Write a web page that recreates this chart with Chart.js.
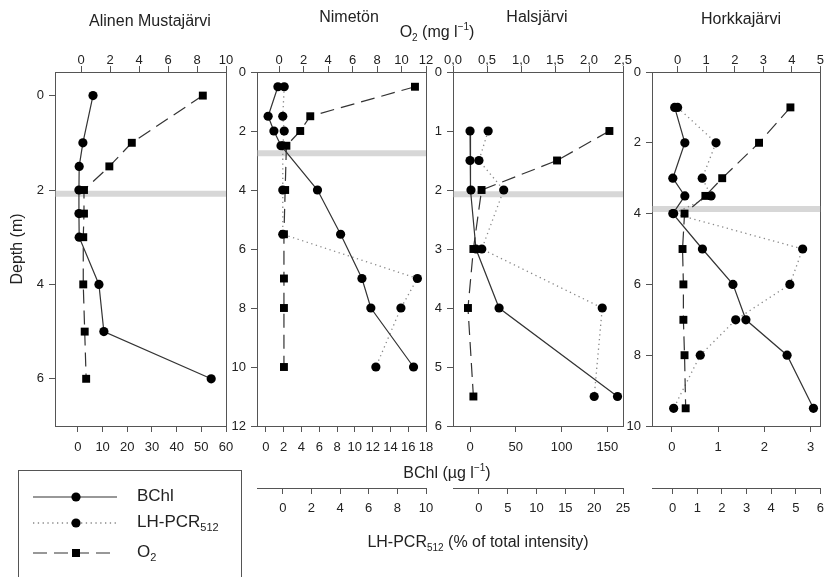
<!DOCTYPE html>
<html>
<head>
<meta charset="utf-8">
<script src="https://cdn.jsdelivr.net/npm/chart.js@4.4.1/dist/chart.umd.min.js"></script>
<style>
  body { margin: 0; width: 831px; height: 577px; position: relative; overflow: hidden; background: #fff;
         font-family: "Liberation Sans", Arial, Helvetica, sans-serif; color: #222; }
  canvas { position: absolute; left: 0; top: 0; }
  .t { position: absolute; white-space: nowrap; font-size: 16px; transform: translate(-50%, -50%); }
  .t sub, .t sup { font-size: 10px; }
  #legend { position: absolute; left: 18px; top: 470px; width: 222px; height: 130px; border: 1px solid #555; }
  #legend .row { position: absolute; left: 0; height: 20px; }
  #legend svg { position: absolute; left: 14px; top: 0; }
  #legend span { position: absolute; left: 118px; top: -1px; font-size: 17px; white-space: nowrap; }
  #legend sub { font-size: 11px; }
</style>
</head>
<body>
<canvas id="c1" width="831" height="577"></canvas>
<canvas id="c2" width="831" height="577"></canvas>
<canvas id="c3" width="831" height="577"></canvas>
<canvas id="c4" width="831" height="577"></canvas>

<div class="t" style="left:150px;top:21px">Alinen Mustajärvi</div>
<div class="t" style="left:349px;top:17px">Nimetön</div>
<div class="t" style="left:537px;top:17px">Halsjärvi</div>
<div class="t" style="left:741px;top:19px">Horkkajärvi</div>
<div class="t" style="left:437px;top:32px">O<sub>2</sub> (mg l<sup>−1</sup>)</div>
<div class="t" style="left:447px;top:472px">BChl (µg l<sup>−1</sup>)</div>
<div class="t" style="left:478px;top:543px">LH-PCR<sub>512</sub> (% of total intensity)</div>

<div id="legend">
  <div class="row" style="top:16px">
    <svg width="86" height="20"><line x1="0" y1="10" x2="84" y2="10" stroke="#333" stroke-width="1.2"/><circle cx="43" cy="10" r="4.6" fill="#000"/></svg>
    <span>BChl</span>
  </div>
  <div class="row" style="top:42px">
    <svg width="86" height="20"><line x1="0" y1="10" x2="84" y2="10" stroke="#888" stroke-width="1.3" stroke-dasharray="1.3 3.5"/><circle cx="43" cy="10" r="4.6" fill="#000"/></svg>
    <span>LH-PCR<sub>512</sub></span>
  </div>
  <div class="row" style="top:72px">
    <svg width="86" height="20"><line x1="0" y1="10" x2="84" y2="10" stroke="#333" stroke-width="1.2" stroke-dasharray="14 7"/><rect x="39" y="6" width="8" height="8" fill="#000"/></svg>
    <span>O<sub>2</sub></span>
  </div>
</div>

<script>
// Alinen Mustajärvi
const AM_DEPTH = [0, 1, 1.5, 2, 2.5, 3, 4, 5, 6];
const AM_BCHL = [6.1, 2, 0.5, 0.4, 0.4, 0.5, 8.5, 10.5, 54];
const AM_O2 = [8.4, 3.5, 1.95, 0.2, 0.2, 0.15, 0.15, 0.25, 0.35];

// Nimetön
const NI_DEPTH = [0.5, 1.5, 2, 2.5, 4, 5.5, 7, 8, 10];
const NI_BCHL = [1.35, 0.25, 0.9, 1.7, 5.8, 8.4, 10.8, 11.8, 16.6];
const NI_LH = [0.1, 0, 0.1, 0, 0, 0, 9.4, 8.25, 6.5];
const NI_O2 = [11.1, 2.55, 1.73, 0.6, 0.5, 0.4, 0.4, 0.4, 0.4];

// Halsjärvi
const HA_DEPTH = [1, 1.5, 2, 3, 4, 5.5];
const HA_BCHL = [0, 0, 1, 6.5, 31.7, 161];
const HA_LH = [1.6, 0, 4.3, 0.5, 21.4, 20];
const HA_O2 = [2.3, 1.53, 0.42, 0.3, 0.22, 0.3];

// Horkkajärvi
const HO_DEPTH = [1, 2, 3, 3.5, 4, 5, 6, 7, 8, 9.5];
const HO_BCHL = [0.06, 0.28, 0.02, 0.28, 0.02, 0.66, 1.32, 1.6, 2.49, 3.06];
const HO_LH = [0.2, 1.76, 1.2, 1.56, 0.04, 5.28, 4.76, 2.56, 1.12, 0.04];
const HO_O2 = [3.95, 2.85, 1.56, 0.97, 0.24, 0.17, 0.2, 0.2, 0.24, 0.28];

// oxycline depth per lake (grey bar)
const OXYCLINE = [2.08, 2.75, 2.07, 3.87];

// tick values
const AM_DEPTH_TICKS = [0, 2, 4, 6];
const NI_DEPTH_TICKS = [0, 2, 4, 6, 8, 10, 12];
const HA_DEPTH_TICKS = [0, 1, 2, 3, 4, 5, 6];
const HO_DEPTH_TICKS = [0, 2, 4, 6, 8, 10];

const AM_O2_TICKS = [0, 2, 4, 6, 8, 10];
const NI_O2_TICKS = [0, 2, 4, 6, 8, 10, 12];
const HA_O2_TICKS = [0, 0.5, 1, 1.5, 2, 2.5];
const HA_O2_LABELS = ["0,0", "0,5", "1,0", "1,5", "2,0", "2,5"];
const HO_O2_TICKS = [0, 1, 2, 3, 4, 5];

const AM_BCHL_TICKS = [0, 10, 20, 30, 40, 50, 60];
const NI_BCHL_TICKS = [0, 2, 4, 6, 8, 10, 12, 14, 16, 18];
const HA_BCHL_TICKS = [0, 50, 100, 150];
const HO_BCHL_TICKS = [0, 1, 2, 3];

const NI_LH_TICKS = [0, 2, 4, 6, 8, 10];
const HA_LH_TICKS = [0, 5, 10, 15, 20, 25];
const HO_LH_TICKS = [0, 1, 2, 3, 4, 5, 6];

const FONT = "'Liberation Sans', Arial, Helvetica, sans-serif";
const AXIS_COLOR = "#555";
const TEXT_COLOR = "#222";
const W = 831, H = 577;
const BOX_TOP = 72, BOX_BOTTOM = 426;
const TOP_AXIS_H = 30, BCHL_AXIS_H = 62, LH_AXIS_H = 34;

function axis(position, range, values, labels, size, opts = {}) {
  const horizontal = position === "top" || position === "bottom";
  return {
    type: "linear",
    axis: horizontal ? "x" : "y",
    position,
    min: range[0],
    max: range[1],
    reverse: !!opts.reverse,
    weight: opts.weight || 0,
    afterBuildTicks: scale => { scale.ticks = values.map(v => ({ value: v })); },
    afterFit: scale => { if (horizontal) scale.height = size; else scale.width = size; },
    ticks: {
      autoSkip: false, maxRotation: 0, minRotation: 0,
      color: TEXT_COLOR, font: { family: FONT, size: 13 },
      padding: opts.padding != null ? opts.padding : 4,
      callback: (v, i) => labels ? labels[i] : v
    },
    grid: { drawOnChartArea: false, tickLength: 6, color: AXIS_COLOR, lineWidth: 1 },
    border: { color: AXIS_COLOR, width: 1 },
    title: opts.title || { display: false }
  };
}

function series(axisId, xs, depths, kind) {
  const base = {
    xAxisID: axisId, yAxisID: "y", showLine: true, clip: false, tension: 0,
    data: xs.map((x, i) => ({ x, y: depths[i] })),
    pointBackgroundColor: "#000", pointBorderColor: "#000", pointBorderWidth: 0,
    pointRadius: 4.6, pointStyle: "circle", borderColor: "#333", borderWidth: 1.2
  };
  if (kind === "lh") Object.assign(base, { borderColor: "#888", borderWidth: 1.3, borderDash: [1.3, 3.5] });
  if (kind === "o2") Object.assign(base, { borderDash: [14, 7], pointStyle: "rect", pointRadius: 5.6 });
  return base;
}

const frame = {
  id: "frame",
  beforeDatasetsDraw(chart) {
    const { left, right, top, bottom } = chart.chartArea;
    const ctx = chart.ctx;
    ctx.save();
    ctx.strokeStyle = AXIS_COLOR;
    ctx.lineWidth = 1;
    ctx.strokeRect(Math.round(left) + 0.5, Math.round(top) + 0.5, Math.round(right - left), Math.round(bottom - top));
    ctx.restore();
  }
};

function panel(cfg) {
  const scales = {
    y: axis("left", cfg.depthRange, cfg.depthTicks, null, cfg.yWidth,
            { reverse: true, padding: 5, title: cfg.yTitle }),
    o2: axis("top", cfg.o2Range, cfg.o2Ticks, cfg.o2Labels, TOP_AXIS_H, { padding: -2 }),
    x: axis("bottom", cfg.bchlRange, cfg.bchlTicks, null, BCHL_AXIS_H, { padding: 8 })
  };
  let bottomH = BCHL_AXIS_H;
  const datasets = [
    {
      xAxisID: "x", yAxisID: "y", showLine: true, order: 10,
      data: [{ x: cfg.bchlRange[0], y: cfg.oxycline }, { x: cfg.bchlRange[1], y: cfg.oxycline }],
      borderColor: "rgba(175,175,175,0.5)", borderWidth: 6, borderCapStyle: "round", pointRadius: 0
    },
    series("x", cfg.bchl, cfg.depth, "bchl"),
    series("o2", cfg.o2, cfg.depth, "o2")
  ];
  if (cfg.lh) {
    scales.lh = axis("bottom", cfg.lhRange, cfg.lhTicks, null, LH_AXIS_H, { weight: 1, padding: 7 });
    bottomH += LH_AXIS_H;
    datasets.push(series("lh", cfg.lh, cfg.depth, "lh"));
  }
  return new Chart(document.getElementById(cfg.id), {
    type: "scatter",
    data: { datasets },
    options: {
      responsive: false,
      animation: false,
      events: [],
      layout: {
        padding: {
          left: cfg.box[0] - cfg.yWidth,
          right: W - cfg.box[1],
          top: BOX_TOP - TOP_AXIS_H,
          bottom: H - BOX_BOTTOM - bottomH
        }
      },
      plugins: { legend: { display: false }, tooltip: { enabled: false } },
      scales
    },
    plugins: [frame]
  });
}

panel({
  id: "c1", box: [55, 226], yWidth: 47,
  yTitle: { display: true, text: "Depth (m)", color: TEXT_COLOR, font: { family: FONT, size: 16 }, padding: 0 },
  depth: AM_DEPTH, bchl: AM_BCHL, o2: AM_O2, oxycline: OXYCLINE[0],
  depthRange: [-0.5, 7], depthTicks: AM_DEPTH_TICKS,
  o2Range: [-1.8, 10], o2Ticks: AM_O2_TICKS,
  bchlRange: [-9.3, 60], bchlTicks: AM_BCHL_TICKS
});

panel({
  id: "c2", box: [257, 426], yWidth: 26,
  depth: NI_DEPTH, bchl: NI_BCHL, o2: NI_O2, lh: NI_LH, oxycline: OXYCLINE[1],
  depthRange: [0, 12], depthTicks: NI_DEPTH_TICKS,
  o2Range: [-1.8, 12], o2Ticks: NI_O2_TICKS,
  bchlRange: [-1, 18], bchlTicks: NI_BCHL_TICKS,
  lhRange: [-1.8, 10], lhTicks: NI_LH_TICKS
});

panel({
  id: "c3", box: [453, 623], yWidth: 26,
  depth: HA_DEPTH, bchl: HA_BCHL, o2: HA_O2, lh: HA_LH, oxycline: OXYCLINE[2],
  depthRange: [0, 6], depthTicks: HA_DEPTH_TICKS,
  o2Range: [0, 2.5], o2Ticks: HA_O2_TICKS, o2Labels: HA_O2_LABELS,
  bchlRange: [-18.6, 167], bchlTicks: HA_BCHL_TICKS,
  lhRange: [-4.5, 25], lhTicks: HA_LH_TICKS
});

panel({
  id: "c4", box: [652, 823], yWidth: 26,
  depth: HO_DEPTH, bchl: HO_BCHL, o2: HO_O2, lh: HO_LH, oxycline: OXYCLINE[3],
  depthRange: [0, 10], depthTicks: HO_DEPTH_TICKS,
  o2Range: [-0.9, 5], o2Ticks: HO_O2_TICKS,
  bchlRange: [-0.43, 3.21], bchlTicks: HO_BCHL_TICKS,
  lhRange: [-0.84, 6], lhTicks: HO_LH_TICKS
});
</script>
</body>
</html>
